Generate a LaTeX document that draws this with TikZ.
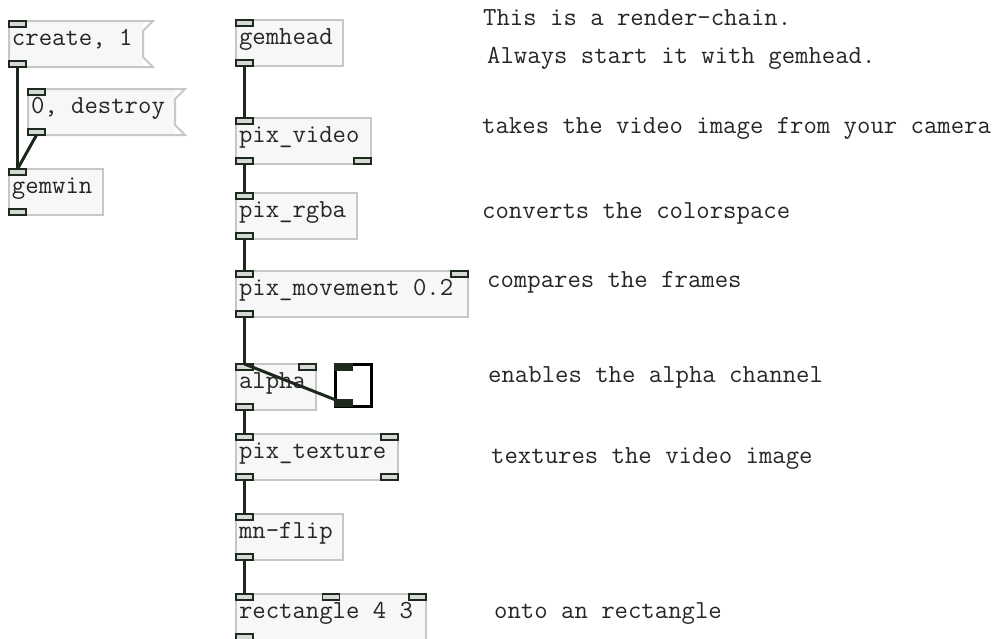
\documentclass[tikz,border=0pt]{standalone}
\usetikzlibrary{positioning}
\definecolor{boxfill}{HTML}{F6F7F6}
\definecolor{boxline}{HTML}{C6C8C6}
\definecolor{iodark}{HTML}{1E2A1E}
\definecolor{iofill}{HTML}{D6DAD6}
\definecolor{wirecol}{HTML}{1C281C}
\definecolor{textcol}{HTML}{262626}
\newcommand\pdfont{\ttfamily\fontsize{26}{30}\selectfont}
\newcommand\pdflag[1]{\draw[boxline,line width=2pt,line join=miter] (#1.north west) -- ([xshift=10pt]#1.north east)
  -- ([yshift=-10pt]#1.north east) -- ([yshift=10pt]#1.south east) -- ([xshift=10pt]#1.south east) -- (#1.south west) -- cycle;}
\tikzset{
  pdbox/.style={rectangle,draw=boxline,fill=boxfill,line width=2pt,anchor=north west,minimum height=46pt,
    inner xsep=3pt,inner ysep=0pt,outer sep=0pt,text height=13pt,text depth=11pt,font=\pdfont,text=textcol},
  boxw/.style={execute at begin node={\hbox to \dimexpr#1pt-6pt\relax\bgroup},execute at end node={\hfil\egroup}},
  pdmsg/.style={pdbox,draw=none},
  iolet/.style={rectangle,draw=iodark,fill=iofill,line width=1.6pt,minimum width=17pt,minimum height=6pt,inner sep=0pt,outer sep=0pt},
  tglio/.style={iolet,fill=iodark},
  toggle/.style={rectangle,draw=black,fill=white,line width=3pt,anchor=north west,minimum width=36pt,minimum height=42pt,inner sep=0pt,outer sep=0pt},
  wire/.style={draw=wirecol,line width=3pt},
  comment/.style={anchor=base west,inner sep=0pt,font=\pdfont,text=textcol}
}
\begin{document}
\begin{tikzpicture}[x=1pt,y=-1pt]
\useasboundingbox (0,0) rectangle (1004,638);
\clip (0,0) rectangle (1004,638);
% window control
\node[pdmsg,boxw=134] (create) at (9,21) {create, 1};
\node[pdmsg,boxw=147] (destroy) at (28,89) {0, destroy};
\pdflag{create}\pdflag{destroy}
\node[pdbox,boxw=94] (gemwin) at (9,169) {gemwin};
% render chain
\node[pdbox,boxw=107] (gemhead) at (236,20) {gemhead};
\node[pdbox,boxw=135] (pixvideo) at (236,118) {pix\_video};
\node[pdbox,boxw=121] (pixrgba) at (236,193) {pix\_rgba};
\node[pdbox,boxw=232] (pixmove) at (236,271) {pix\_movement 0.2};
\node[pdbox,boxw=80] (alpha) at (236,364) {alpha};
\node[toggle] (tgl) at (335,364) {};
\node[pdbox,boxw=162] (pixtex) at (236,434) {pix\_texture};
\node[pdbox,boxw=107] (mnflip) at (236,514) {mn-flip};
\node[pdbox,boxw=190] (rect) at (236,594) {rectangle 4 3};
% inlets and outlets
\foreach \b in {create,destroy,gemwin,gemhead,pixvideo,pixrgba,pixmove,alpha,pixtex,mnflip,rect}{
  \node[iolet,anchor=north west] (\b-i0) at (\b.north west) {};
  \node[iolet,anchor=south west] (\b-o0) at (\b.south west) {};}
\foreach \b in {pixmove,alpha,pixtex,rect}
  \node[iolet,anchor=north east] (\b-i1) at (\b.north east) {};
\foreach \b in {pixvideo,pixtex}
  \node[iolet,anchor=south east] (\b-o1) at (\b.south east) {};
\node[iolet,anchor=north] (rect-i2) at (rect.north) {};
\node[tglio,anchor=north west] (tgl-i0) at (tgl.north west) {};
\node[tglio,anchor=south west] (tgl-o0) at (tgl.south west) {};
% connections
\foreach \a/\b in {create/gemwin,destroy/gemwin,gemhead/pixvideo,pixvideo/pixrgba,pixrgba/pixmove,
  pixmove/alpha,alpha/pixtex,pixtex/mnflip,mnflip/rect}
  \draw[wire] (\a-o0.south) -- (\b-i0.north);
\draw[wire] (alpha-i0.north) -- (tgl-o0.center);
% comments
\node[comment] (c1) at (483,25) {This is a render-chain.};
\node[comment] (c2) at (487,63) {Always start it with gemhead.};
\node[comment] (c3) at (482,133) {takes the video image from your camera};
\node[comment] (c4) at (482,218) {converts the colorspace};
\node[comment] (c5) at (487,287) {compares the frames};
\node[comment] (c6) at (488,382) {enables the alpha channel};
\node[comment] (c7) at (491,463) {textures the video image};
\node[comment] (c8) at (494,618) {onto an rectangle};
\end{tikzpicture}
\end{document}
